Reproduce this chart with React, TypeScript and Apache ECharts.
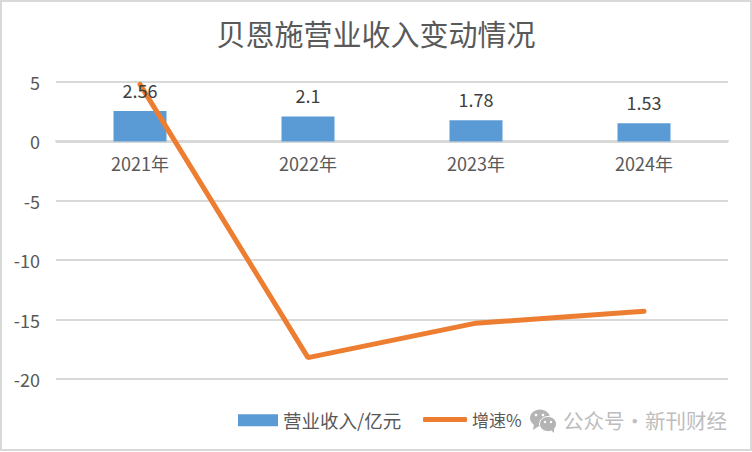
import React, { useEffect, useRef } from "react";
import * as echarts from "echarts";

const categories = ["2021年", "2022年", "2023年", "2024年"];
const revenue = [2.56, 2.1, 1.78, 1.53];
const growth = [4.8, -18.2, -15.3, -14.3];
const titleText = "贝恩施营业收入变动情况";
const watermark = "公众号·新刊财经";
const FONT = '"Noto Sans CJK SC", "Noto Sans", sans-serif';
const TEXT = "#595959";

export default function App() {
  const ref = useRef<HTMLDivElement>(null);
  useEffect(() => {
    document.body.style.margin = "0";
    const chart = echarts.init(ref.current!, undefined, { renderer: "svg" });
    const mark = "#b4b4b4";
    chart.setOption({
      animation: false,
      backgroundColor: "#fff",
      textStyle: { fontFamily: FONT },
      title: {
        text: titleText,
        left: "center",
        top: 13,
        textStyle: { fontFamily: FONT, fontSize: 29, fontWeight: "normal", color: TEXT },
      },
      legend: [
        {
          data: [{ name: "营业收入/亿元", icon: "rect" }],
          left: 233,
          top: 406,
          itemWidth: 40,
          itemHeight: 12,
          itemGap: 5,
          textStyle: { fontFamily: FONT, fontSize: 18.5, color: TEXT },
        },
        {
          data: [{ name: "增速%", icon: "roundRect" }],
          left: 418,
          top: 406,
          itemWidth: 44,
          itemHeight: 5,
          itemGap: 3,
          textStyle: { fontFamily: FONT, fontSize: 17, color: TEXT },
        },
      ],
      grid: { left: 56, right: 24, top: 82, bottom: 73, containLabel: false },
      xAxis: {
        type: "category",
        data: categories,
        offset: -238,
        axisLine: { show: true, onZero: false, lineStyle: { color: "#d9d9d9", width: 2 } },
        axisTick: { show: false },
        axisLabel: { color: TEXT, fontSize: 18, fontFamily: FONT, margin: 13 },
      },
      yAxis: {
        type: "value",
        min: -20,
        max: 5,
        interval: 5,
        axisLine: { show: false },
        axisTick: { show: false },
        splitLine: { lineStyle: { color: "#d9d9d9", width: 2 } },
        axisLabel: { color: TEXT, fontSize: 18, fontFamily: FONT, margin: 16, padding: [0, 0, 5, 0] },
      },
      series: [
        {
          name: "营业收入/亿元",
          type: "bar",
          data: revenue,
          barWidth: 53,
          barGap: "-100%",
          z: 2,
          itemStyle: { color: "#5B9BD5" },
        },
        {
          name: "增速%",
          type: "line",
          data: growth,
          symbol: "none",
          z: 3,
          lineStyle: { color: "#ED7D31", width: 5, cap: "round" },
          itemStyle: { color: "#ED7D31" },
        },
        {
          name: "数据标签",
          type: "bar",
          data: revenue,
          barWidth: 53,
          barGap: "-100%",
          z: 5,
          silent: true,
          itemStyle: { color: "transparent" },
          label: {
            show: true,
            position: "top",
            distance: 12,
            color: "#404040",
            fontSize: 18,
            fontFamily: FONT,
          },
        },
      ],
      graphic: [
        {
          type: "rect",
          silent: true,
          shape: { x: 1, y: 1, width: 750, height: 449 },
          style: { fill: "none", stroke: "#d9d9d9", lineWidth: 2 },
        },
        { type: "ellipse", shape: { cx: 540, cy: 418, rx: 10, ry: 8.5 }, style: { fill: mark } },
        { type: "polygon", shape: { points: [[534, 424], [533, 430], [539, 426]] }, style: { fill: mark } },
        { type: "ellipse", shape: { cx: 548, cy: 424, rx: 8.5, ry: 7.5 }, style: { fill: mark, stroke: "#fff", lineWidth: 1 } },
        { type: "polygon", shape: { points: [[551, 430], [554, 433], [554, 428]] }, style: { fill: mark } },
        { type: "circle", shape: { cx: 536, cy: 415, r: 1.3 }, style: { fill: "#fff" } },
        { type: "circle", shape: { cx: 543, cy: 415, r: 1.3 }, style: { fill: "#fff" } },
        { type: "circle", shape: { cx: 545, cy: 422, r: 1.2 }, style: { fill: "#fff" } },
        { type: "circle", shape: { cx: 551, cy: 422, r: 1.2 }, style: { fill: "#fff" } },
        {
          type: "text",
          x: 563,
          y: 420,
          style: {
            text: watermark,
            fontFamily: FONT,
            fontSize: 20.5,
            fill: "#bdbdbd",
            textVerticalAlign: "middle",
          },
        },
      ],
    });
    return () => chart.dispose();
  }, []);
  return <div ref={ref} style={{ width: 752, height: 452 }} />;
}
